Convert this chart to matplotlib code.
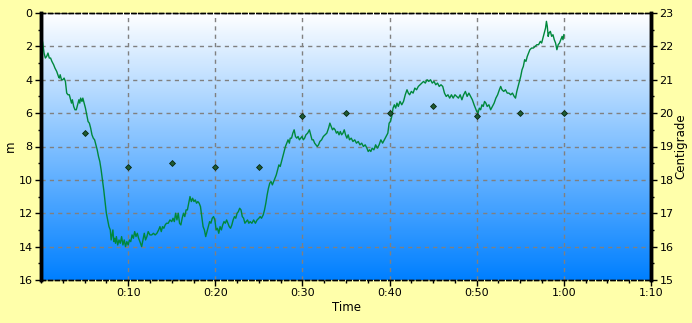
##潜水ログ (水深と水温) のグラフ
import matplotlib.pyplot as plt
import numpy as np
from matplotlib.ticker import MultipleLocator

##データ
#経過時間 [分]
time_min = [0.0, 0.2, 0.35, 0.5, 0.65, 0.8, 0.95, 1.1, 1.25, 1.45, 1.6, 1.8, 2.0, 2.1, 2.2, 2.35, 2.5, 2.65, 2.8, 2.95,
            3.1, 3.25, 3.4, 3.5, 3.6, 3.75, 3.9, 4.05, 4.2, 4.35, 4.45, 4.55, 4.7, 4.8, 4.95, 5.1, 5.25, 5.4, 5.55, 5.7,
            5.85, 6.0, 6.15, 6.3, 6.45, 6.6, 6.75, 6.9, 7.05, 7.2, 7.35, 7.5, 7.65, 7.8, 7.95, 8.05, 8.15, 8.25, 8.35, 8.45,
            8.55, 8.65, 8.8, 8.95, 9.1, 9.25, 9.4, 9.55, 9.7, 9.85, 10.0, 10.15, 10.3, 10.45, 10.6, 10.75, 10.9, 11.05, 11.2, 11.35,
            11.55, 11.7, 11.85, 12.0, 12.15, 12.3, 12.5, 12.7, 12.9, 13.1, 13.3, 13.5, 13.65, 13.8, 13.95, 14.1, 14.25, 14.4, 14.6, 14.8,
            15.0, 15.15, 15.3, 15.45, 15.6, 15.75, 15.9, 16.05, 16.2, 16.35, 16.5, 16.65, 16.8, 16.95, 17.1, 17.25, 17.4, 17.55, 17.7, 17.85,
            18.0, 18.15, 18.3, 18.45, 18.6, 18.75, 18.9, 19.05, 19.2, 19.35, 19.5, 19.65, 19.8, 19.95, 20.1, 20.25, 20.4, 20.55, 20.7, 20.85,
            21.0, 21.15, 21.3, 21.45, 21.6, 21.75, 21.9, 22.05, 22.2, 22.35, 22.5, 22.65, 22.8, 22.95, 23.1, 23.25, 23.4, 23.55, 23.7, 23.85,
            24.0, 24.2, 24.4, 24.6, 24.8, 25.0, 25.15, 25.3, 25.5, 25.65, 25.8, 25.95, 26.1, 26.25, 26.4, 26.55, 26.7, 26.85, 27.0, 27.15,
            27.3, 27.45, 27.6, 27.75, 27.9, 28.05, 28.2, 28.35, 28.5, 28.6, 28.75, 28.9, 29.05, 29.2, 29.35, 29.5, 29.65, 29.8, 29.95, 30.1,
            30.25, 30.4, 30.6, 30.8, 30.95, 31.1, 31.25, 31.4, 31.55, 31.7, 31.85, 32.0, 32.2, 32.4, 32.6, 32.8, 33.0, 33.15, 33.3, 33.45,
            33.6, 33.75, 33.9, 34.05, 34.2, 34.35, 34.5, 34.65, 34.8, 34.95, 35.1, 35.25, 35.4, 35.6, 35.8, 36.0, 36.2, 36.4, 36.6, 36.8,
            37.0, 37.2, 37.4, 37.55, 37.7, 37.85, 38.0, 38.2, 38.4, 38.6, 38.8, 39.0, 39.2, 39.4, 39.6, 39.8, 39.95, 40.1, 40.25, 40.4,
            40.55, 40.7, 40.85, 41.0, 41.2, 41.4, 41.6, 41.8, 42.0, 42.15, 42.3, 42.5, 42.7, 42.9, 43.1, 43.3, 43.5, 43.7, 43.9, 44.1,
            44.3, 44.5, 44.7, 44.9, 45.1, 45.3, 45.5, 45.7, 45.9, 46.1, 46.3, 46.5, 46.7, 46.9, 47.1, 47.3, 47.5, 47.7, 47.9, 48.1,
            48.3, 48.5, 48.7, 48.9, 49.1, 49.3, 49.5, 49.7, 49.85, 50.0, 50.15, 50.3, 50.45, 50.6, 50.75, 50.9, 51.05, 51.2, 51.4, 51.6,
            51.8, 52.0, 52.2, 52.4, 52.6, 52.75, 52.9, 53.1, 53.3, 53.5, 53.7, 53.9, 54.1, 54.3, 54.45, 54.6, 54.75, 54.9, 55.05, 55.2,
            55.35, 55.5, 55.65, 55.8, 55.95, 56.1, 56.3, 56.5, 56.7, 56.9, 57.1, 57.3, 57.45, 57.6, 57.75, 57.9, 58.0, 58.1, 58.2, 58.3,
            58.45, 58.6, 58.75, 58.9, 59.05, 59.2, 59.35, 59.5, 59.65, 59.8, 59.9, 60.0]

#水深 [m]
depth_m = [1.2, 1.8, 2.4, 2.7, 2.6, 2.4, 2.7, 2.7, 2.9, 3.1, 3.3, 3.5, 3.8, 3.9, 3.7, 4.0, 4.0, 3.9, 4.1, 4.8,
           4.9, 4.9, 5.2, 5.4, 5.2, 5.6, 5.8, 5.8, 5.5, 5.2, 5.4, 5.1, 5.3, 5.1, 5.4, 5.7, 6.1, 6.5, 6.6, 6.9,
           7.3, 7.5, 7.6, 7.9, 8.2, 8.6, 8.9, 9.4, 10.0, 10.6, 11.3, 12.0, 12.4, 12.8, 13.0, 13.6, 13.3, 13.0, 13.7, 13.5,
           13.8, 13.4, 13.9, 13.6, 13.8, 13.4, 13.9, 13.6, 14.0, 13.7, 13.9, 13.6, 13.7, 13.3, 13.5, 13.1, 13.4, 13.2, 13.5, 13.7,
           14.0, 13.6, 13.2, 13.6, 13.4, 13.1, 13.3, 13.3, 13.2, 13.3, 13.2, 13.0, 12.8, 13.1, 12.8, 12.9, 12.7, 12.6, 12.6, 12.4,
           12.5, 12.3, 12.5, 12.0, 12.4, 12.0, 12.6, 12.7, 12.3, 12.0, 12.2, 11.8, 11.8, 11.4, 11.0, 11.3, 11.1, 11.3, 11.2, 11.4,
           11.3, 11.4, 11.6, 12.2, 12.8, 13.0, 13.4, 13.1, 12.8, 12.5, 12.6, 12.3, 12.2, 12.4, 13.0, 12.9, 13.2, 12.8, 13.0, 12.7,
           12.5, 12.6, 12.4, 12.6, 12.8, 12.9, 12.7, 12.4, 12.2, 12.3, 12.0, 11.9, 11.7, 11.8, 12.2, 12.3, 12.6, 12.5, 12.4, 12.6,
           12.5, 12.6, 12.4, 12.6, 12.4, 12.3, 12.2, 12.3, 12.1, 11.8, 11.4, 10.9, 10.5, 10.2, 10.1, 10.3, 10.1, 9.9, 9.7, 9.4,
           9.1, 9.2, 8.9, 8.6, 8.3, 8.0, 7.8, 7.6, 7.8, 7.5, 7.5, 7.2, 7.0, 7.4, 7.5, 7.4, 7.6, 7.5, 7.4, 7.6,
           7.5, 7.3, 7.2, 7.0, 7.3, 7.6, 7.6, 7.8, 7.9, 8.0, 7.9, 7.7, 7.6, 7.4, 7.3, 7.2, 6.9, 6.6, 6.8, 7.0,
           6.9, 7.0, 7.2, 7.1, 7.3, 7.1, 7.3, 7.2, 7.0, 7.3, 7.5, 7.3, 7.6, 7.5, 7.7, 7.6, 7.8, 7.7, 7.9, 7.8,
           8.0, 7.9, 8.1, 8.3, 8.2, 8.3, 8.1, 8.2, 7.9, 8.1, 7.9, 7.6, 7.8, 7.6, 7.4, 7.2, 6.6, 6.5, 6.2, 5.7,
           5.5, 5.7, 5.4, 5.6, 5.3, 5.5, 5.3, 4.9, 4.6, 4.8, 4.9, 4.7, 4.8, 4.5, 4.6, 4.4, 4.3, 4.2, 4.1, 4.2,
           4.0, 4.1, 4.0, 4.2, 4.1, 4.3, 4.2, 4.4, 4.3, 4.4, 4.8, 5.0, 4.9, 5.1, 4.9, 5.1, 4.9, 5.0, 5.1, 4.9,
           5.2, 4.9, 4.7, 5.0, 4.8, 5.0, 5.2, 5.5, 5.7, 5.9, 6.0, 5.7, 5.8, 5.5, 5.6, 5.3, 5.4, 5.6, 5.5, 5.8,
           5.6, 5.4, 5.1, 4.9, 4.6, 4.4, 4.6, 4.7, 4.6, 4.8, 4.8, 4.9, 4.8, 5.0, 5.1, 4.7, 4.4, 4.1, 3.8, 3.4,
           3.2, 2.8, 2.9, 2.6, 2.4, 2.2, 2.1, 2.1, 2.0, 1.9, 1.9, 1.7, 1.8, 1.5, 1.2, 0.9, 0.5, 0.8, 1.4, 1.2,
           1.1, 1.4, 1.3, 1.6, 1.8, 2.2, 1.9, 1.8, 1.6, 1.4, 1.6, 1.3]

#水温の計測時刻 [分] と水温 [℃]
temp_time_min = [5, 10, 15, 20, 25, 30, 35, 40, 45, 50, 55, 60]
temp_c = [19.4, 18.4, 18.5, 18.4, 18.4, 19.9, 20.0, 20.0, 20.2, 19.9, 20.0, 20.0]

#x軸の目盛りラベル
x_ticks = [10, 20, 30, 40, 50, 60, 70]
x_tick_labels = ['0:10', '0:20', '0:30', '0:40', '0:50', '1:00', '1:10']

##描画
fig = plt.figure(figsize=(6.92, 3.23), dpi=100, facecolor='#FFFFAA')
ax = fig.add_axes([41 / 692, 1 - 280 / 323, 610 / 692, 267 / 323])

#背景のグラデーション (白 -> 青)
grad = np.linspace(0, 1, 256).reshape(-1, 1)
top = np.array([1.0, 1.0, 1.0])
bottom = np.array([0.0, 0.5, 1.0])
img = top * (1 - grad[..., None]) + bottom * grad[..., None]
ax.imshow(img, extent=(0, 1, 0, 1), transform=ax.transAxes, aspect='auto', zorder=0)

ax.plot(time_min, depth_m, color='#00883C', linewidth=1, zorder=3)

ax.set_xlim(0, 70)
ax.set_ylim(16, 0)
ax.set_xticks(x_ticks)
ax.set_xticklabels(x_tick_labels)
ax.xaxis.set_minor_locator(MultipleLocator(2.5))
ax.yaxis.set_major_locator(MultipleLocator(2))
ax.yaxis.set_minor_locator(MultipleLocator(1))
ax.tick_params(labelsize=8, length=4, width=1, pad=2)
ax.tick_params(which='minor', length=2.5, width=1)
ax.set_xlabel('Time', fontsize=8.5, labelpad=2)
ax.set_ylabel('m', fontsize=8.5)
ax.yaxis.set_label_coords(-0.039, 0.5)

#グリッド
ax.grid(True, color='#808080', linestyle=(0, (3, 3)), linewidth=1, zorder=1)

#右軸 (水温)
ax2 = ax.twinx()
ax2.scatter(temp_time_min, temp_c, marker='D', s=9, c='#1E5A32', edgecolors='#0A2814', linewidths=0.6, zorder=4)
ax2.set_ylim(15, 23)
ax2.yaxis.set_major_locator(MultipleLocator(1))
ax2.yaxis.set_minor_locator(MultipleLocator(0.5))
ax2.tick_params(labelsize=8, length=4, width=1, pad=2)
ax2.tick_params(which='minor', length=2.5, width=1)
ax2.set_ylabel('Centigrade', fontsize=8.5)
ax2.yaxis.set_label_coords(1.039, 0.5)

#枠線
for a in (ax, ax2):
    a.spines['left'].set_linewidth(2.5)
    a.spines['right'].set_linewidth(2.5)
    a.spines['top'].set_linestyle((0, (3, 2)))
    a.spines['bottom'].set_linestyle((0, (3, 2)))
    a.spines['top'].set_linewidth(1)
    a.spines['bottom'].set_linewidth(1)

fig.savefig('out.png', dpi=100, facecolor=fig.get_facecolor())
